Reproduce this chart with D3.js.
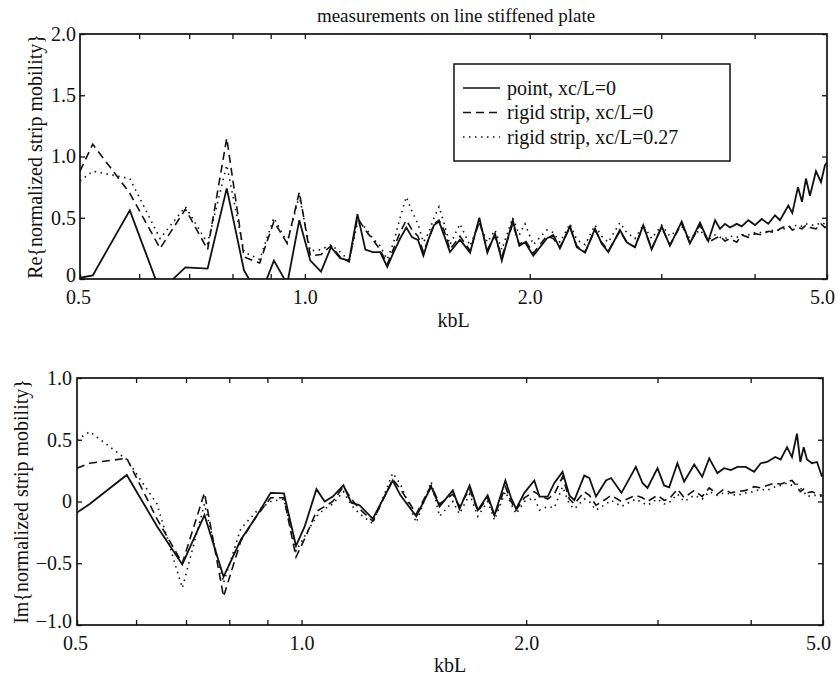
<!DOCTYPE html>
<html>
<head>
<meta charset="utf-8">
<script src="https://cdn.jsdelivr.net/npm/d3@7"></script>
<style>
  body { margin: 0; background: #fff; }
  svg { display: block; }
  text { font-family: "Liberation Serif", "Times New Roman", serif; fill: #111; }
</style>
</head>
<body>
<div id="chart"></div>
<script>
var title = 'measurements on line stiffened plate';
var seriesNames = ['point, xc/L=0', 'rigid strip, xc/L=0', 'rigid strip, xc/L=0.27'];

// top panel: Re{normalized strip mobility}
var reK = [0.500, 0.520, 0.583, 0.640, 0.692, 0.741, 0.786, 0.829, 0.870, 0.909, 0.947, 0.983,
  1.017, 1.051, 1.084, 1.115, 1.146, 1.176, 1.205, 1.233, 1.261, 1.289, 1.315, 1.341, 1.367, 1.392,
  1.417, 1.441, 1.465, 1.489, 1.512, 1.535, 1.564, 1.613, 1.664, 1.712, 1.755, 1.797, 1.835, 1.898,
  1.937, 1.971, 2.022, 2.107, 2.150, 2.195, 2.264, 2.312, 2.372, 2.446, 2.496, 2.548, 2.641, 2.697,
  2.766, 2.838, 2.912, 3.004, 3.081, 3.195, 3.277, 3.380, 3.468, 3.541, 3.595, 3.651, 3.708, 3.786,
  3.844, 3.923, 4.005, 4.089, 4.172, 4.260, 4.325, 4.438, 4.493, 4.572, 4.629, 4.686, 4.744, 4.833,
  4.908, 4.969, 5.000];
var reSolid = [0.01, 0.03, 0.56, -0.10, 0.095, 0.085, 0.74, 0.07, -0.15, 0.15, -0.04, 0.48,
  0.15, 0.06, 0.26, 0.17, 0.15, 0.53, 0.24, 0.22, 0.22, 0.10, 0.22, 0.33, 0.42, 0.34,
  0.32, 0.19, 0.33, 0.44, 0.47, 0.36, 0.22, 0.32, 0.215, 0.50, 0.215, 0.37, 0.15, 0.48,
  0.27, 0.30, 0.19, 0.33, 0.36, 0.25, 0.43, 0.26, 0.215, 0.41, 0.29, 0.22, 0.40, 0.30,
  0.26, 0.44, 0.24, 0.43, 0.27, 0.47, 0.29, 0.46, 0.31, 0.48, 0.41, 0.45, 0.42, 0.45,
  0.43, 0.48, 0.44, 0.49, 0.45, 0.52, 0.48, 0.60, 0.54, 0.75, 0.63, 0.82, 0.68, 0.88,
  0.79, 0.93, 0.95];
var reDash = [0.88, 1.10, 0.70, 0.25, 0.57, 0.24, 1.15, 0.18, 0.13, 0.47, 0.29, 0.71,
  0.19, 0.20, 0.27, 0.18, 0.14, 0.50, 0.40, 0.32, 0.24, 0.12, 0.25, 0.38, 0.48, 0.40,
  0.35, 0.22, 0.33, 0.45, 0.48, 0.40, 0.24, 0.35, 0.23, 0.47, 0.24, 0.35, 0.18, 0.45,
  0.28, 0.32, 0.21, 0.35, 0.33, 0.26, 0.42, 0.27, 0.22, 0.40, 0.30, 0.23, 0.39, 0.30,
  0.26, 0.43, 0.25, 0.42, 0.28, 0.45, 0.29, 0.44, 0.30, 0.33, 0.35, 0.31, 0.33, 0.30,
  0.36, 0.34, 0.37, 0.36, 0.39, 0.38, 0.41, 0.44, 0.40, 0.42, 0.41, 0.44, 0.42, 0.41,
  0.45, 0.42, 0.43];
var reDot = [0.80, 0.88, 0.82, 0.33, 0.59, 0.29, 0.93, 0.22, 0.16, 0.50, 0.30, 0.68,
  0.23, 0.24, 0.28, 0.22, 0.15, 0.46, 0.42, 0.33, 0.27, 0.16, 0.30, 0.50, 0.67, 0.55,
  0.45, 0.30, 0.38, 0.50, 0.59, 0.46, 0.28, 0.45, 0.27, 0.46, 0.30, 0.40, 0.24, 0.50,
  0.36, 0.45, 0.28, 0.40, 0.38, 0.30, 0.45, 0.32, 0.28, 0.44, 0.35, 0.30, 0.46, 0.38,
  0.33, 0.44, 0.33, 0.44, 0.35, 0.43, 0.33, 0.40, 0.32, 0.36, 0.34, 0.33, 0.35, 0.34,
  0.36, 0.36, 0.38, 0.38, 0.39, 0.40, 0.40, 0.42, 0.43, 0.44, 0.43, 0.45, 0.44, 0.44,
  0.46, 0.45, 0.45];

// bottom panel: Im{normalized strip mobility}
var imK = [0.500, 0.520, 0.583, 0.640, 0.692, 0.741, 0.786, 0.829, 0.870, 0.909, 0.947, 0.983,
  1.010, 1.047, 1.074, 1.101, 1.138, 1.166, 1.196, 1.246, 1.325, 1.357, 1.425, 1.492, 1.531,
  1.595, 1.628, 1.680, 1.723, 1.776, 1.814, 1.876, 1.909, 1.939, 1.989, 2.051, 2.084, 2.138,
  2.182, 2.238, 2.285, 2.321, 2.393, 2.431, 2.481, 2.559, 2.600, 2.684, 2.806, 2.864, 2.909,
  3.000, 3.062, 3.110, 3.190, 3.257, 3.360, 3.444, 3.519, 3.609, 3.685, 3.762, 3.840, 3.939,
  4.042, 4.126, 4.207, 4.316, 4.387, 4.475, 4.544, 4.614, 4.662, 4.711, 4.759, 4.833, 4.908, 4.985];
var imSolid = [-0.09, -0.02, 0.215, -0.20, -0.51, -0.11, -0.61, -0.31, -0.12, 0.07, 0.065, -0.36,
  -0.20, 0.10, 0.00, 0.04, 0.13, -0.01, -0.03, -0.14, 0.17, 0.05, -0.12, 0.12, -0.04,
  0.09, -0.06, 0.13, -0.07, 0.05, -0.11, 0.17, 0.03, -0.06, 0.07, 0.17, 0.04, 0.04,
  0.15, 0.24, 0.05, 0.01, 0.21, 0.19, 0.04, 0.17, 0.19, 0.07, 0.28, 0.15, 0.11,
  0.27, 0.13, 0.115, 0.31, 0.16, 0.30, 0.20, 0.35, 0.23, 0.27, 0.255, 0.28, 0.28,
  0.24, 0.31, 0.32, 0.36, 0.34, 0.44, 0.36, 0.55, 0.32, 0.44, 0.34, 0.31, 0.32, 0.20];
var imDash = [0.27, 0.31, 0.35, -0.14, -0.50, 0.07, -0.77, -0.32, -0.12, 0.03, 0.03, -0.45,
  -0.30, -0.08, -0.04, 0.00, 0.12, 0.02, -0.06, -0.16, 0.18, 0.10, -0.10, 0.13, -0.02,
  0.06, -0.04, 0.10, -0.08, 0.03, -0.12, 0.12, 0.00, -0.07, 0.03, 0.08, 0.05, 0.02,
  0.06, 0.20, 0.02, -0.02, 0.08, 0.05, -0.03, 0.02, 0.05, 0.00, 0.05, 0.03, 0.00,
  0.05, 0.01, 0.02, 0.10, 0.03, 0.09, 0.04, 0.11, 0.06, 0.10, 0.07, 0.08, 0.09,
  0.12, 0.11, 0.13, 0.15, 0.14, 0.16, 0.17, 0.12, 0.08, 0.10, 0.07, 0.08, 0.06, 0.05];
var imDot = [0.50, 0.565, 0.34, -0.02, -0.70, -0.02, -0.66, -0.22, -0.08, 0.00, 0.02, -0.40,
  -0.28, -0.12, -0.06, -0.02, 0.08, -0.03, -0.10, -0.18, 0.23, 0.14, -0.17, 0.16, -0.12,
  0.00, -0.10, 0.06, -0.12, 0.00, -0.15, 0.08, -0.02, -0.10, 0.00, 0.03, -0.07, -0.04,
  -0.05, 0.12, -0.02, -0.06, 0.02, 0.00, -0.07, -0.02, 0.01, -0.04, 0.02, -0.01, -0.03,
  0.02, -0.02, -0.01, 0.06, 0.00, 0.05, 0.02, 0.08, 0.05, 0.07, 0.06, 0.05, 0.07,
  0.08, 0.10, 0.09, 0.12, 0.13, 0.15, 0.13, 0.14, 0.11, 0.08, 0.04, 0.05, 0.05, 0.04];

var xMajor = [0.5, 1, 2, 5];
var xMinor = [0.6, 0.7, 0.8, 0.9, 1, 2, 3, 4];
var reTicks = [0, 0.5, 1, 1.5, 2];
var imTicks = [-1, -0.5, 0, 0.5, 1];

var W = 838, H = 678;
var dashes = [null, '8,5', '1.5,4.5'];

var svg = d3.select('#chart').append('svg').attr('width', W).attr('height', H);

svg.append('text')
  .attr('x', 456).attr('y', 22)
  .attr('text-anchor', 'middle')
  .style('font-size', '19px')
  .text(title);

function panel(opts) {
  var x = d3.scaleLog().domain([0.5, 5]).range([opts.left, opts.right]);
  var y = d3.scaleLinear().domain(opts.yDomain).range([opts.bottom, opts.top]);
  var g = svg.append('g');

  var clipId = 'clip-' + opts.name;
  svg.append('clipPath').attr('id', clipId).append('rect')
    .attr('x', opts.left).attr('y', opts.top)
    .attr('width', opts.right - opts.left).attr('height', opts.bottom - opts.top);

  var fmtX = function(d) { return xMajor.indexOf(d) >= 0 ? d3.format('.1f')(d) : ''; };
  var fmtY = function(d) { return d === 0 ? '0' : d3.format('.1f')(d); };

  // bottom axis with labels, ticks pointing in
  var xb = g.append('g').attr('transform', 'translate(0,' + opts.bottom + ')')
    .call(d3.axisBottom(x).tickValues(xMinor.concat([0.5, 5])).tickFormat(fmtX).tickSize(-5).tickPadding(11));
  // nudge the end labels like the original (0.5 slightly left, 5.0 kept inside)
  xb.selectAll('.tick text').attr('dx', function(d) { return d === 5 ? -5 : (d === 0.5 ? -2 : 0); });

  g.append('g').attr('transform', 'translate(0,' + opts.top + ')')
    .call(d3.axisTop(x).tickValues(xMinor).tickFormat('').tickSize(-5));
  var yl = g.append('g').attr('transform', 'translate(' + opts.left + ',0)')
    .call(d3.axisLeft(y).tickValues(opts.yTicks).tickFormat(fmtY).tickSize(-5).tickPadding(opts.yPad));
  // lowest label sits a little higher so it clears the 0.5 below it
  yl.selectAll('.tick text').attr('dy', function(d) { return d === opts.yDomain[0] ? '0.12em' : '0.32em'; });
  g.append('g').attr('transform', 'translate(' + opts.right + ',0)')
    .call(d3.axisRight(y).tickValues(opts.yTicks).tickFormat('').tickSize(-5));

  g.selectAll('.domain').remove();
  g.selectAll('.tick line').attr('stroke', '#111').attr('stroke-width', 1.3);
  g.selectAll('.tick text').style('font-size', '20px').attr('fill', '#111')
    .style('font-family', '"Liberation Serif", serif');

  g.append('rect')
    .attr('x', opts.left).attr('y', opts.top)
    .attr('width', opts.right - opts.left).attr('height', opts.bottom - opts.top)
    .attr('fill', 'none').attr('stroke', '#111').attr('stroke-width', 1.7);

  var line = d3.line()
    .x(function(d) { return x(d[0]); })
    .y(function(d) { return y(d[1]); });

  var lines = g.append('g').attr('clip-path', 'url(#' + clipId + ')');
  opts.series.forEach(function(vals, i) {
    lines.append('path')
      .datum(opts.k.map(function(k, j) { return [k, vals[j]]; }))
      .attr('d', line)
      .attr('fill', 'none')
      .attr('stroke', '#111')
      .attr('stroke-width', i === 0 ? 1.8 : 1.6)
      .attr('stroke-dasharray', dashes[i]);
  });

  svg.append('text')
    .attr('x', (opts.left + opts.right) / 2).attr('y', opts.bottom + opts.xLabelDy)
    .attr('text-anchor', 'middle')
    .style('font-size', '20px')
    .text('kbL');

  svg.append('text')
    .attr('transform', 'translate(' + opts.yLabelX + ',' + (opts.top + opts.bottom) / 2 + ') rotate(-90)')
    .attr('text-anchor', 'middle')
    .style('font-size', '20px')
    .text(opts.yLabel);

  return { x: x, y: y };
}

panel({
  name: 're', left: 80, right: 827, top: 34, bottom: 279,
  yDomain: [0, 2], yTicks: reTicks, yPad: 4, yLabelX: 42, xLabelDy: 48,
  yLabel: 'Re{normalized strip mobility}',
  k: reK, series: [reSolid, reDash, reDot]
});

panel({
  name: 'im', left: 77, right: 823, top: 378, bottom: 625,
  yDomain: [-1, 1], yTicks: imTicks, yPad: 5, yLabelX: 28, xLabelDy: 47,
  yLabel: 'Im{normalized strip mobility}',
  k: imK, series: [imSolid, imDash, imDot]
});

// legend
var leg = svg.append('g');
leg.append('rect').attr('x', 454).attr('y', 64).attr('width', 276).attr('height', 97)
  .attr('fill', '#fff').attr('stroke', '#111').attr('stroke-width', 1.5);
seriesNames.forEach(function(name, i) {
  var cy = 88 + i * 24.5;
  leg.append('line').attr('x1', 463).attr('x2', 500).attr('y1', cy).attr('y2', cy)
    .attr('stroke', '#111').attr('stroke-width', 1.5).attr('stroke-dasharray', dashes[i]);
  leg.append('text').attr('x', 507).attr('y', cy + 6.5).style('font-size', '20px').text(name);
});
</script>
</body>
</html>
